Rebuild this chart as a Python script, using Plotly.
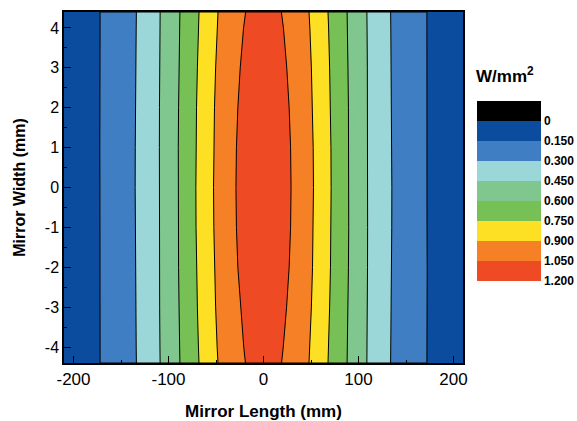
import plotly.graph_objects as go

# Contour levels (W/mm^2) and the band colours between them
levels = [0.0, 0.15, 0.30, 0.45, 0.60, 0.75, 0.90, 1.05, 1.20]
band_colors = ["#000000", "#0B4C9E", "#3F7EC3", "#9BD6D8", "#80C68F",
               "#77C055", "#FDE024", "#F58025", "#EE4B25"]

# Rows across the mirror width (mm)
y_rows = [-4.4, -4.0, -3.0, -2.0, -1.0, 0.0, 1.0, 2.0, 3.0, 4.0, 4.4]

# Half-width (mm) of each iso-power contour along the mirror length, per row
hw_015 = [172.0, 172.1, 172.4, 172.3, 172.1, 172.2, 172.3, 172.3, 172.1, 172.1, 172.0]
hw_030 = [133.8, 134.0, 134.5, 134.8, 135.0, 135.1, 135.0, 134.8, 134.5, 134.0, 133.8]
hw_045 = [108.8, 109.0, 109.3, 109.5, 109.6, 109.7, 109.6, 109.5, 109.3, 109.0, 108.8]
hw_060 = [88.0, 88.3, 88.9, 89.4, 89.7, 89.8, 89.7, 89.4, 88.9, 88.3, 88.0]
hw_075 = [67.9, 68.5, 69.6, 70.5, 71.0, 71.2, 71.0, 70.5, 69.6, 68.5, 67.9]
hw_090 = [47.9, 48.8, 50.4, 51.6, 52.3, 52.6, 52.3, 51.6, 50.4, 48.8, 47.9]
hw_105 = [19.0, 20.8, 24.3, 27.0, 28.5, 29.0, 28.5, 27.0, 24.5, 21.0, 18.8]

contour_widths = [hw_015, hw_030, hw_045, hw_060, hw_075, hw_090, hw_105]

# Axis ticks
x_ticks = [-200, -100, 0, 100, 200]
y_ticks = [-4, -3, -2, -1, 0, 1, 2, 3, 4]
cbar_labels = ["0", "0.150", "0.300", "0.450", "0.600", "0.750", "0.900", "1.050", "1.200"]

fig = go.Figure()

# Each contour encloses the region above its level; draw outermost first
for i, hw in enumerate(contour_widths):
    xs = list(hw) + [-w for w in reversed(hw)] + [hw[0]]
    ys = list(y_rows) + list(reversed(y_rows)) + [y_rows[0]]
    fig.add_trace(go.Scatter(
        x=xs, y=ys, mode="lines", fill="toself",
        fillcolor=band_colors[i + 2],
        line=dict(color="black", width=1),
        hoverinfo="skip", showlegend=False,
    ))

# Colour key: values increase downwards, one block per band plus the black block
n = len(band_colors)
cmin, cmax = -levels[-1], levels[1]
scale = []
for k, c in enumerate(reversed(band_colors)):
    scale.append([k / n, c])
    scale.append([(k + 1) / n, c])

fig.add_trace(go.Scatter(
    x=[None], y=[None], mode="markers", showlegend=False, hoverinfo="skip",
    marker=dict(
        color=[cmin], cmin=cmin, cmax=cmax, colorscale=scale, showscale=True,
        colorbar=dict(
            x=(477 - 64) / 399, xanchor="left", xpad=0,
            y=(363 - 191) / 351, yanchor="middle", ypad=0,
            len=180, lenmode="pixels", thickness=64,
            outlinewidth=0, ticks="",
            tickvals=[-v for v in levels], ticktext=cbar_labels,
            tickfont=dict(family="Arial", size=12, color="black", weight="bold"),
        ),
    ),
))

fig.add_annotation(
    text="W/mm<sup>2</sup>", xref="paper", yref="paper",
    x=(505 - 64) / 399, y=(363 - 75) / 351, xanchor="center", yanchor="middle",
    showarrow=False,
    font=dict(family="Arial", size=17, color="black", weight="bold"),
)

axis_common = dict(
    showgrid=False, zeroline=False, showline=True, linecolor="black",
    linewidth=1.5, mirror=True, ticks="inside", ticklen=7, tickwidth=1,
    tickcolor="black", automargin=False,
)

fig.update_xaxes(
    range=[-210, 210], tickvals=x_ticks, ticktext=[str(v) for v in x_ticks],
    minor=dict(dtick=50, ticks="inside", ticklen=3.5, tickcolor="black"),
    tickfont=dict(family="Arial", size=17, color="black"),
    title=dict(text="Mirror Length (mm)", standoff=19,
               font=dict(family="Arial", size=17, color="black", weight="bold")),
    **axis_common,
)
fig.update_yaxes(
    range=[-4.4, 4.4], tickvals=y_ticks, ticktext=[str(v) for v in y_ticks],
    minor=dict(dtick=0.5, ticks="inside", ticklen=3.5, tickcolor="black"),
    tickfont=dict(family="Arial", size=16, color="black"),
    title=dict(text="Mirror Width (mm)", standoff=15,
               font=dict(family="Arial", size=16, color="black", weight="bold")),
    **axis_common,
)

fig.update_layout(
    width=577, height=421,
    margin=dict(l=64, r=114, t=12, b=58, autoexpand=False),
    plot_bgcolor=band_colors[1], paper_bgcolor="white",
)

fig.write_html("out.html")
